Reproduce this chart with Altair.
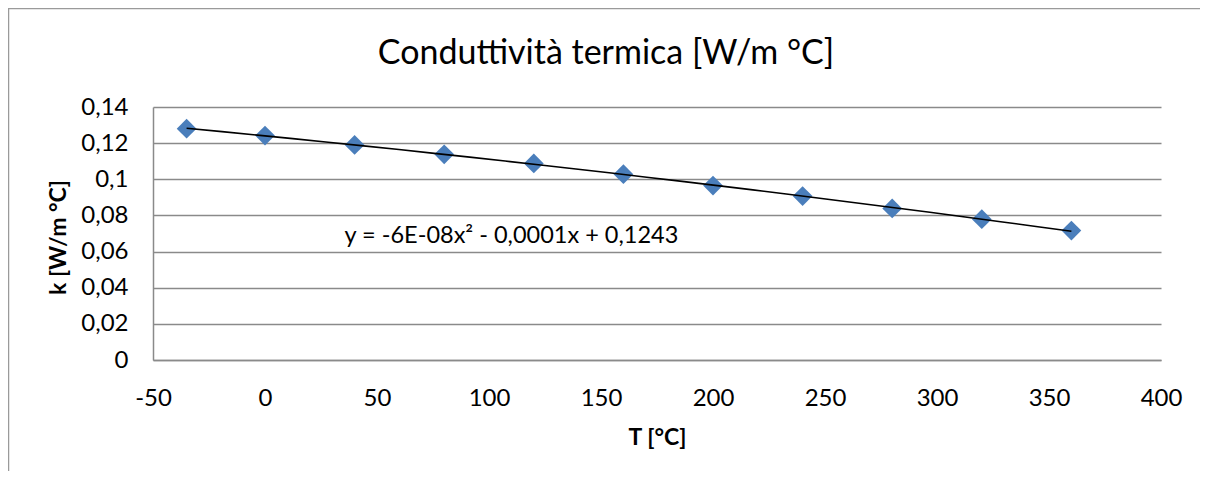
import altair as alt
import pandas as pd

# Data
T_values = [-35, 0, 40, 80, 120, 160, 200, 240, 280, 320, 360]
k_values = [0.128, 0.1242, 0.119, 0.1138, 0.1088, 0.1028, 0.0965, 0.0907, 0.0839, 0.0779, 0.0716]
x_ticks = [-50, 0, 50, 100, 150, 200, 250, 300, 350, 400]
y_ticks = [0, 0.02, 0.04, 0.06, 0.08, 0.1, 0.12, 0.14]
title_text = "Conduttività termica [W/m °C]"
x_title = "T [°C]"
y_title = "k [W/m °C]"
equation = "y = -6E-08x\u00b2 - 0,0001x + 0,1243"
equation_T = [35.5]
equation_k = [0.0647]

df = pd.DataFrame({"T": T_values, "k": k_values})
eq_df = pd.DataFrame({"T": equation_T, "k": equation_k, "label": [equation]})

FONT = "Lato"
GRID = "#8a8a8a"

xscale = alt.Scale(domain=[-50, 400], nice=False, zero=False)
yscale = alt.Scale(domain=[0, 0.14], nice=False)

xaxis = alt.Axis(
    values=x_ticks, tickCount=len(x_ticks), grid=False, ticks=False, tickSize=0,
    domain=True, domainColor=GRID, domainWidth=1.5, labelFontSize=24,
    labelFont=FONT, labelColor="black", labelPadding=26, labelFlush=False,
    labelOverlap=False, labelExpr="toString(datum.value)",
    title=x_title, titleFont=FONT, titleFontSize=23, titleFontWeight="bold",
    titleColor="black", titleY=77, titleBaseline="middle",
)
yaxis = alt.Axis(
    values=y_ticks, tickCount=len(y_ticks), grid=True, gridColor=GRID,
    gridWidth=1.5, ticks=False, tickSize=0, domain=True, domainColor=GRID,
    domainWidth=1.5, labelFontSize=24, labelFont=FONT, labelColor="black",
    labelPadding=25, labelOverlap=False, labelFlush=False,
    labelExpr="replace(format(datum.value, '.2~f'), '.', ',')",
    title=y_title, titleFont=FONT, titleFontSize=23, titleFontWeight="bold",
    titleColor="black", titleAngle=270, titleX=-95, titleY=130,
    titleAlign="center", titleBaseline="middle",
)

X = alt.X("T:Q", scale=xscale, axis=xaxis)
Y = alt.Y("k:Q", scale=yscale, axis=yaxis)

base = alt.Chart(df)

points = base.mark_point(shape="diamond", filled=True, size=390, opacity=1,
                         color="#4a7ebb").encode(x=X, y=Y)

trend = base.transform_regression("T", "k", method="poly", order=2).mark_line(
    color="black", strokeWidth=1.6).encode(x=X, y=Y)

eq = alt.Chart(eq_df).mark_text(
    align="left", baseline="alphabetic", font=FONT, fontSize=23.5, color="black"
).encode(x=X, y=Y, text="label:N")

title = alt.Chart(pd.DataFrame({"label": [title_text]})).mark_text(
    align="center", baseline="alphabetic", font=FONT, fontSize=34, color="black"
).encode(x=alt.value(453), y=alt.value(-43), text="label:N")

border_top = alt.Chart(pd.DataFrame({"a": [0]})).mark_rule(
    color="#9a9a9a", strokeWidth=1.5).encode(
    x=alt.value(-145), x2=alt.value(1100), y=alt.value(-98.5))
border_left = alt.Chart(pd.DataFrame({"a": [0]})).mark_rule(
    color="#9a9a9a", strokeWidth=1.5).encode(
    x=alt.value(-144.5), y=alt.value(-99), y2=alt.value(400))

chart = alt.layer(border_top, border_left, points, trend, eq, title).properties(
    width=1008, height=253,
    padding={"left": 145, "top": 99, "right": 39, "bottom": 111},
    autosize=alt.AutoSizeParams(type="none"),
    background="white",
).configure_view(strokeWidth=0)

chart.save("out.html", embed_options={"renderer": "svg", "actions": False})
